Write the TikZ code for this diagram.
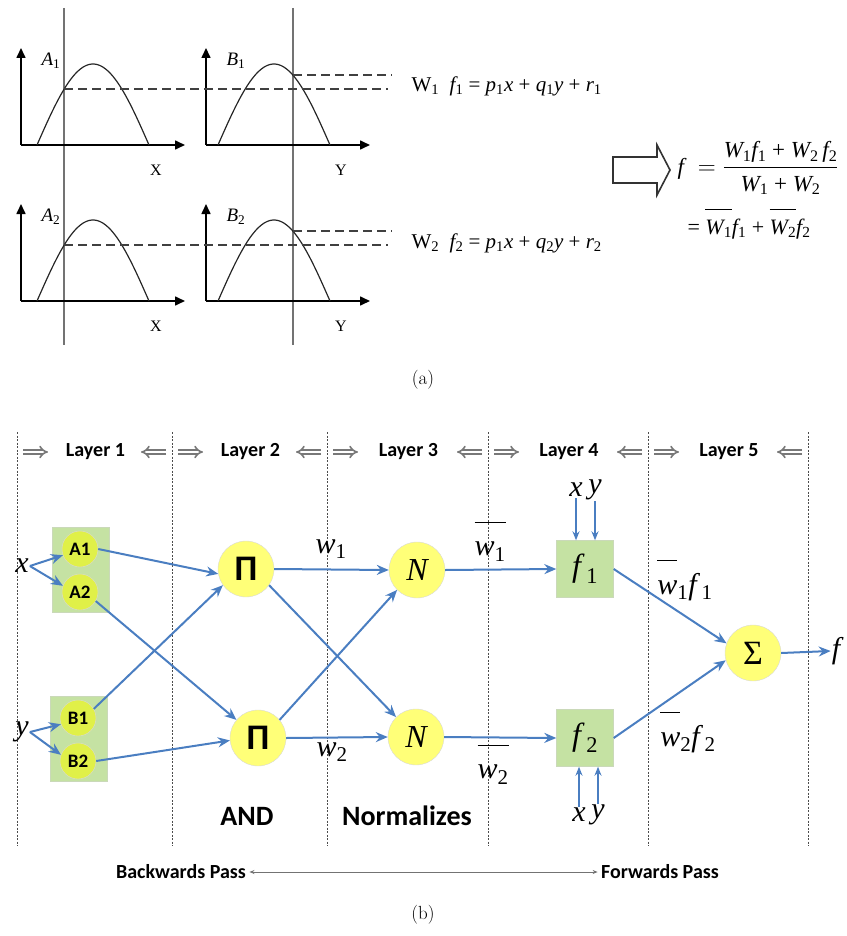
\documentclass[tikz,border=0pt]{standalone}
\usepackage{fontspec}
\usepackage{amsmath}
\usetikzlibrary{arrows.meta}
\newfontfamily\tnr{Liberation Serif}
\newfontfamily\cbri{Carlito}
\newcommand{\ti}[1]{{\tnr\itshape #1}}
\newcommand{\low}[1]{\textsubscript{\upshape #1}}
\newcommand{\obar}[1]{$\overline{\hbox{\vrule height 1.0em width 0pt #1}}$}
\definecolor{netblue}{RGB}{74,126,193}
\definecolor{boxgreen}{RGB}{197,226,163}
\definecolor{ballyellow}{RGB}{255,255,120}
\definecolor{smallyellow}{RGB}{224,240,72}
\definecolor{hdrgray}{RGB}{120,120,120}

\tikzset{
  axisline/.style={line width=1.6pt, -{Triangle[length=10pt,width=9pt]}},
  mfcurve/.style={line width=1.2pt, black!85},
  cutline/.style={line width=1.2pt, black!55},
  levelline/.style={line width=1.8pt, black!75, dash pattern=on 9pt off 5pt},
  mflabel/.style={font=\tnr\itshape\fontsize{19}{22}\selectfont},
  axlabel/.style={font=\tnr\fontsize{16}{18}\selectfont},
  eqtext/.style={font=\tnr\fontsize{21}{25}\selectfont, anchor=west},
  sep/.style={black!70, line width=0.8pt, dash pattern=on 2pt off 1.5pt},
  hdr/.style={font=\cbri\bfseries\fontsize{20}{24}\selectfont},
  hdrarrow/.style={hdrgray, line width=1.6pt, double, double distance=2.6pt, -{Implies}},
  gbox/.style={rectangle, fill=boxgreen, draw=boxgreen!85!black!60, minimum width=57pt, minimum height=85pt},
  sball/.style={circle, fill=smallyellow, draw=black!15, minimum size=36pt, inner sep=0pt,
    font=\cbri\bfseries\fontsize{19}{22}\selectfont},
  bball/.style={circle, fill=ballyellow, draw=black!15, minimum size=56pt, inner sep=0pt},
  fbox/.style={rectangle, fill=boxgreen, draw=boxgreen!85!black!60, minimum size=57pt, inner sep=0pt,
    font=\tnr\fontsize{32}{36}\selectfont},
  lbl/.style={font=\tnr\fontsize{30}{34}\selectfont, inner sep=1pt},
  netarrow/.style={netblue, line width=2pt, -{Stealth[length=12pt,width=10pt,inset=4pt]}},
  inarrow/.style={netblue, line width=2pt, -{Stealth[length=9pt,width=7pt,inset=3pt]}},
  bigword/.style={font=\cbri\bfseries\fontsize{28}{32}\selectfont},
  password/.style={font=\cbri\bfseries\fontsize{20}{24}\selectfont}
}

% one membership panel: axis origin x, base y, name, variable letter, node prefix, curve start
\newcommand{\mfpanel}[6]{%
  \draw[axisline] (#1,#2) -- (#1,#2-97);
  \draw[axisline] (#1,#2) -- (#1+164,#2);
  \draw[mfcurve] plot[domain=0:112,samples=60,smooth] ({#6+\x},{#2-81*sin(1.6071*\x)});
  \node[mflabel] (#5name) at (#1+30,#2-84) {#3};
  \node[axlabel] (#5var) at (#1+135,#2+25) {#4};
}

\begin{document}
\begin{tikzpicture}[x=1pt,y=-1pt]
\useasboundingbox (0,0) rectangle (846,936);

% (a) membership functions
\draw[cutline] (64,8) -- (64,345);
\draw[cutline] (293,8) -- (293,345);
\mfpanel{21}{145}{A\low{1}}{X}{a1}{37}
\mfpanel{206}{145}{B\low{1}}{Y}{b1}{218}
\mfpanel{21}{301}{A\low{2}}{X}{a2}{37}
\mfpanel{206}{301}{B\low{2}}{Y}{b2}{218}
\draw[levelline] (64,{145-81*sin(43.39)}) -- (388,{145-81*sin(43.39)});
\draw[levelline] (293,{145-81*sin(120.54)}) -- (392,{145-81*sin(120.54)});
\draw[levelline] (64,{301-81*sin(43.39)}) -- (388,{301-81*sin(43.39)});
\draw[levelline] (293,{301-81*sin(120.54)}) -- (392,{301-81*sin(120.54)});

\node[eqtext] (rule1) at (408,86) {W\low{1}\ \ \ti{f}\low{1} = \ti{p}\low{1}\ti{x} + \ti{q}\low{1}\ti{y} + \ti{r}\low{1}};
\node[eqtext] (rule2) at (408,243) {W\low{2}\ \ \ti{f}\low{2} = \ti{p}\low{1}\ti{x} + \ti{q}\low{2}\ti{y} + \ti{r}\low{2}};

% hollow arrow
\draw[line width=1.6pt, black!80] (613,157) -- (657,157) -- (657,145) -- (670,170)
  -- (657,195) -- (657,183) -- (613,183) -- cycle;

\node[font=\tnr\fontsize{23}{27}\selectfont, anchor=west] (favg) at (674,168)
  {$\hbox{\ti{f}}\;=\displaystyle\frac{\hbox{\ti{W}\low{1}\ti{f}\low{1} + \ti{W}\low{2}\,\ti{f}\low{2}}}{\hbox{\ti{W}\low{1} + \ti{W}\low{2}}}$};
\node[font=\tnr\fontsize{22}{26}\selectfont, anchor=west] (fnorm) at (684,224)
  {= \obar{\ti{W}\low{1}}\ti{f}\low{1} + \obar{\ti{W}\low{2}}\ti{f}\low{2}};

\node[font=\fontsize{19}{23}\selectfont] (capa) at (423,380) {(a)};

% (b) layer separators and headers
\foreach \xx in {17,172,327,488,648,808}
  \draw[sep] (\xx,432) -- (\xx,846);
\foreach \n/\a/\b in {1/17/172,2/172/327,3/327/488,4/488/648,5/648/808} {
  \node[hdr] (layer\n) at ({(\a+\b)/2+1},452) {Layer \n};
  \draw[hdrarrow] (\a+6,452) -- (\a+31,452);
  \draw[hdrarrow] (\b-6,452) -- (\b-31,452);
}

% inputs and layer 1
\node[lbl] (x) at (22,566) {\ti{x}};
\node[lbl] (y) at (22,732) {\ti{y}};
\node[gbox] (Abox) at (81,570) {};
\node[sball] (A1) at (80,549) {A1};
\node[sball] (A2) at (80,592) {A2};
\node[gbox] (Bbox) at (79,739) {};
\node[sball] (B1) at (78,718) {B1};
\node[sball] (B2) at (78,761) {B2};

% layers 2 to 5
\node[bball, font=\cbri\bfseries\fontsize{36}{40}\selectfont] (P1) at (246,569) {Π};
\node[bball, font=\cbri\bfseries\fontsize{36}{40}\selectfont] (P2) at (258,738) {Π};
\node[bball, font=\tnr\itshape\fontsize{32}{36}\selectfont] (N1) at (417,570) {N};
\node[bball, font=\tnr\itshape\fontsize{32}{36}\selectfont] (N2) at (416,737) {N};
\node[fbox] (F1) at (585,569) {\ti{f}\,\low{1}};
\node[fbox] (F2) at (585,738) {\ti{f}\,\low{2}};
\node[bball, font=\tnr\fontsize{34}{38}\selectfont] (S) at (753,653) {Σ};
\node[lbl] (fout) at (836,651) {\ti{f}};

% edge labels
\node[lbl] (w1) at (331,549) {\ti{w}\low{1}};
\node[lbl] (w2) at (332,752) {\ti{w}\low{2}};
\node[lbl] (nw1) at (490,541) {\obar{\ti{w}\low{1}}};
\node[lbl] (nw2) at (493,764) {\obar{\ti{w}\low{2}}};
\node[lbl] (wf1) at (685,580) {\obar{\ti{w}}\low{1}\ti{f}\,\low{1}};
\node[lbl] (wf2) at (688,732) {\obar{\ti{w}}\low{2}\ti{f}\,\low{2}};
\node[lbl] (x3) at (576,490) {\ti{x}};
\node[lbl] (y3) at (595,490) {\ti{y}};
\node[lbl] (x4) at (579,815) {\ti{x}};
\node[lbl] (y4) at (598,815) {\ti{y}};

% connections
\draw[netarrow] (x.east) -- (A1.200);
\draw[netarrow] (x.east) -- (A2.160);
\draw[netarrow] (y.east) -- (B1.200);
\draw[netarrow] (y.east) -- (B2.160);
\draw[netarrow] (A1.east) -- (P1.190);
\draw[netarrow] (B1.30) -- (P1.215);
\draw[netarrow] (A2.-30) -- (P2.140);
\draw[netarrow] (B2.east) -- (P2.185);
\draw[netarrow] (P1.east) -- (N1.west);
\draw[netarrow] (P1.-35) -- (N2.135);
\draw[netarrow] (P2.40) -- (N1.-135);
\draw[netarrow] (P2.east) -- (N2.west);
\draw[netarrow] (N1.east) -- (F1.west);
\draw[netarrow] (N2.east) -- (F2.west);
\draw[netarrow] (F1.east) -- (S.160);
\draw[netarrow] (F2.east) -- (S.195);
\draw[netarrow] (S.east) -- (fout.west);
\draw[inarrow] (x3.south) -- (x3.south |- F1.north);
\draw[inarrow] (y3.south) -- (y3.south |- F1.north);
\draw[inarrow] (x4.north) -- (x4.north |- F2.south);
\draw[inarrow] (y4.north) -- (y4.north |- F2.south);

\node[bigword] (andw) at (247,816) {AND};
\node[bigword] (normw) at (407,816) {Normalizes};

% passes
\node[password] (bw) at (181,872) {Backwards Pass};
\node[password] (fw) at (660,872) {Forwards Pass};
\draw[black!55, line width=1pt, {Stealth[length=5pt,width=4pt]}-{Stealth[length=5pt,width=4pt]}] (bw.east) -- (fw.west);

\node[font=\fontsize{19}{23}\selectfont] (capb) at (423,915) {(b)};
\end{tikzpicture}
\end{document}
